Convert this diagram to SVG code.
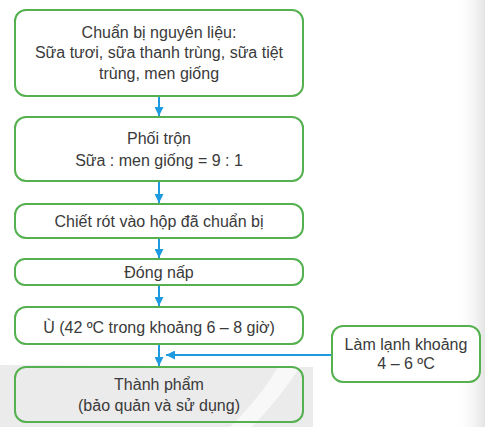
<svg xmlns="http://www.w3.org/2000/svg" width="485" height="427" viewBox="0 0 485 427">
<style>
.box{fill:none;stroke:#55b04f;stroke-width:2}
.boxw{fill:#ffffff;stroke:#55b04f;stroke-width:2}
.t{font-family:"Liberation Sans",Arial,sans-serif;font-size:16px;fill:#3a3a3a;text-anchor:middle}
.c{stroke:#1e9be0;stroke-width:2;fill:none}
</style>
<defs>
<marker id="ah" viewBox="0 0 10 10" refX="10" refY="5" markerWidth="4.5" markerHeight="4.5" orient="auto" markerUnits="strokeWidth">
<path d="M0,0 L10,5 L0,10 Z" fill="#1e9be0"/>
</marker>
<linearGradient id="rg" x1="0" y1="0" x2="1" y2="0">
<stop offset="0" stop-color="#ffffff" stop-opacity="0"/>
<stop offset="1" stop-color="#e4e4e4"/>
</linearGradient>
</defs>
<rect width="485" height="427" fill="#ffffff"/>
<g id="watermark">
<path d="M0,365 L313,367 L313,427 L0,427 Z" fill="#ebebeb"/>
<path d="M278,367 Q262,395 230,427 L252,427 Q280,398 300,367 Z" fill="#f8f8f8"/>
<rect x="455" y="0" width="30" height="427" fill="url(#rg)"/>
</g>
<g id="connectors">
<line class="c" x1="159" y1="96" x2="159" y2="116" marker-end="url(#ah)"/>
<line class="c" x1="159" y1="181" x2="159" y2="203" marker-end="url(#ah)"/>
<line class="c" x1="159" y1="238" x2="159" y2="258" marker-end="url(#ah)"/>
<line class="c" x1="159" y1="285" x2="159" y2="306" marker-end="url(#ah)"/>
<line class="c" x1="159" y1="344" x2="159" y2="366" marker-end="url(#ah)"/>
<line class="c" x1="332" y1="355" x2="166" y2="355" marker-end="url(#ah)"/>
</g>
<g id="n1">
<rect class="boxw" x="15" y="10" width="288" height="86" rx="11"/>
<text class="t" x="159" y="38">Chuẩn bị nguyên liệu:</text>
<text class="t" x="159" y="58">Sữa tươi, sữa thanh trùng, sữa tiệt</text>
<text class="t" x="159" y="79">trùng, men giống</text>
</g>
<g id="n2">
<rect class="boxw" x="15" y="117" width="288" height="64" rx="11"/>
<text class="t" x="159" y="144">Phối trộn</text>
<text class="t" x="159" y="166">Sữa : men giống = 9 : 1</text>
</g>
<g id="n3">
<rect class="boxw" x="15" y="204" width="288" height="34" rx="11"/>
<text class="t" x="159" y="227">Chiết rót vào hộp đã chuẩn bị</text>
</g>
<g id="n4">
<rect class="boxw" x="15" y="259" width="288" height="26" rx="10"/>
<text class="t" x="159" y="278">Đóng nấp</text>
</g>
<g id="n5">
<rect class="boxw" x="15" y="307" width="288" height="37" rx="11"/>
<text class="t" x="159" y="333">Ù (42 ºC trong khoảng 6 – 8 giờ)</text>
</g>
<g id="n6">
<rect class="box" x="15" y="367" width="288" height="55" rx="11"/>
<text class="t" x="159" y="390">Thành phẩm</text>
<text class="t" x="159" y="411">(bảo quản và sử dụng)</text>
</g>
<g id="n7">
<rect class="boxw" x="332" y="326" width="148" height="56" rx="11"/>
<text class="t" x="406" y="350">Làm lạnh khoảng</text>
<text class="t" x="406" y="369">4 – 6 ºC</text>
</g>
</svg>
